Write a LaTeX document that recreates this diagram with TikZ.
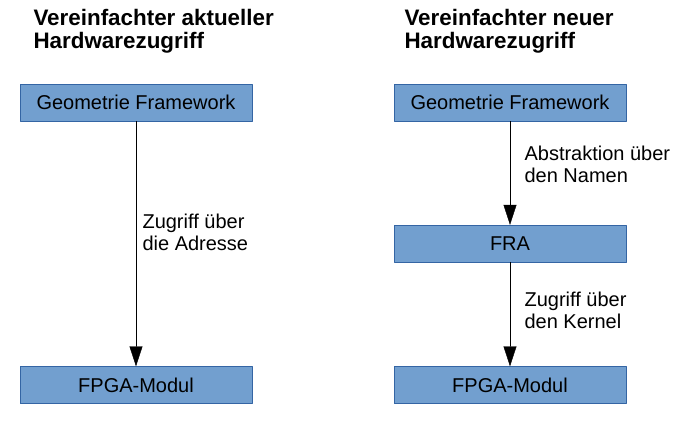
\documentclass[tikz,border=0pt]{standalone}
\usepackage{fontspec}
\setmainfont{Liberation Sans}
\usetikzlibrary{arrows.meta}
\definecolor{boxfill}{HTML}{729FCF}
\definecolor{boxline}{HTML}{3465A4}
\begin{document}
\begin{tikzpicture}[x=1pt, y=-1pt, line cap=round, line join=round, font=\fontsize{20}{22}\selectfont, >={Triangle[width=13pt,length=20pt]}]
			\tikzset{box style/.style={draw=boxline, fill=boxfill, minimum width=232pt, minimum height=37pt, inner sep=0pt},
				title style/.style={anchor=west, align=left, font=\fontsize{22.4}{23}\selectfont\bfseries},
				label style/.style={anchor=west, align=left}}
			\useasboundingbox (0,0) rectangle (685,440);
			% links: aktueller Zugriff
			\node[title style] (titelA) at (30,31.5) {Vereinfachter aktueller\\Hardwarezugriff};
			\node[box style] (geoA) at (136,102.5) {Geometrie Framework};
			\node[box style] (fpgaA) at (136,385) {FPGA-Modul};
			\draw[->] (geoA)--(fpgaA);
			\node[label style] (zugA) at (139,232.5) {Zugriff über\\die Adresse};
			% rechts: neuer Zugriff
			\node[title style] (titelB) at (401,31.5) {Vereinfachter neuer\\Hardwarezugriff};
			\node[box style] (geoB) at (510,102.5) {Geometrie Framework};
			\node[box style] (fra) at (510,243.5) {FRA};
			\node[box style] (fpgaB) at (510,385) {FPGA-Modul};
			\draw[->] (geoB)--(fra);
			\draw[->] (fra)--(fpgaB);
			\node[label style] (abstr) at (521,164) {Abstraktion über\\den Namen};
			\node[label style] (zugB) at (521,310) {Zugriff über\\den Kernel};
		\end{tikzpicture}
\end{document}
